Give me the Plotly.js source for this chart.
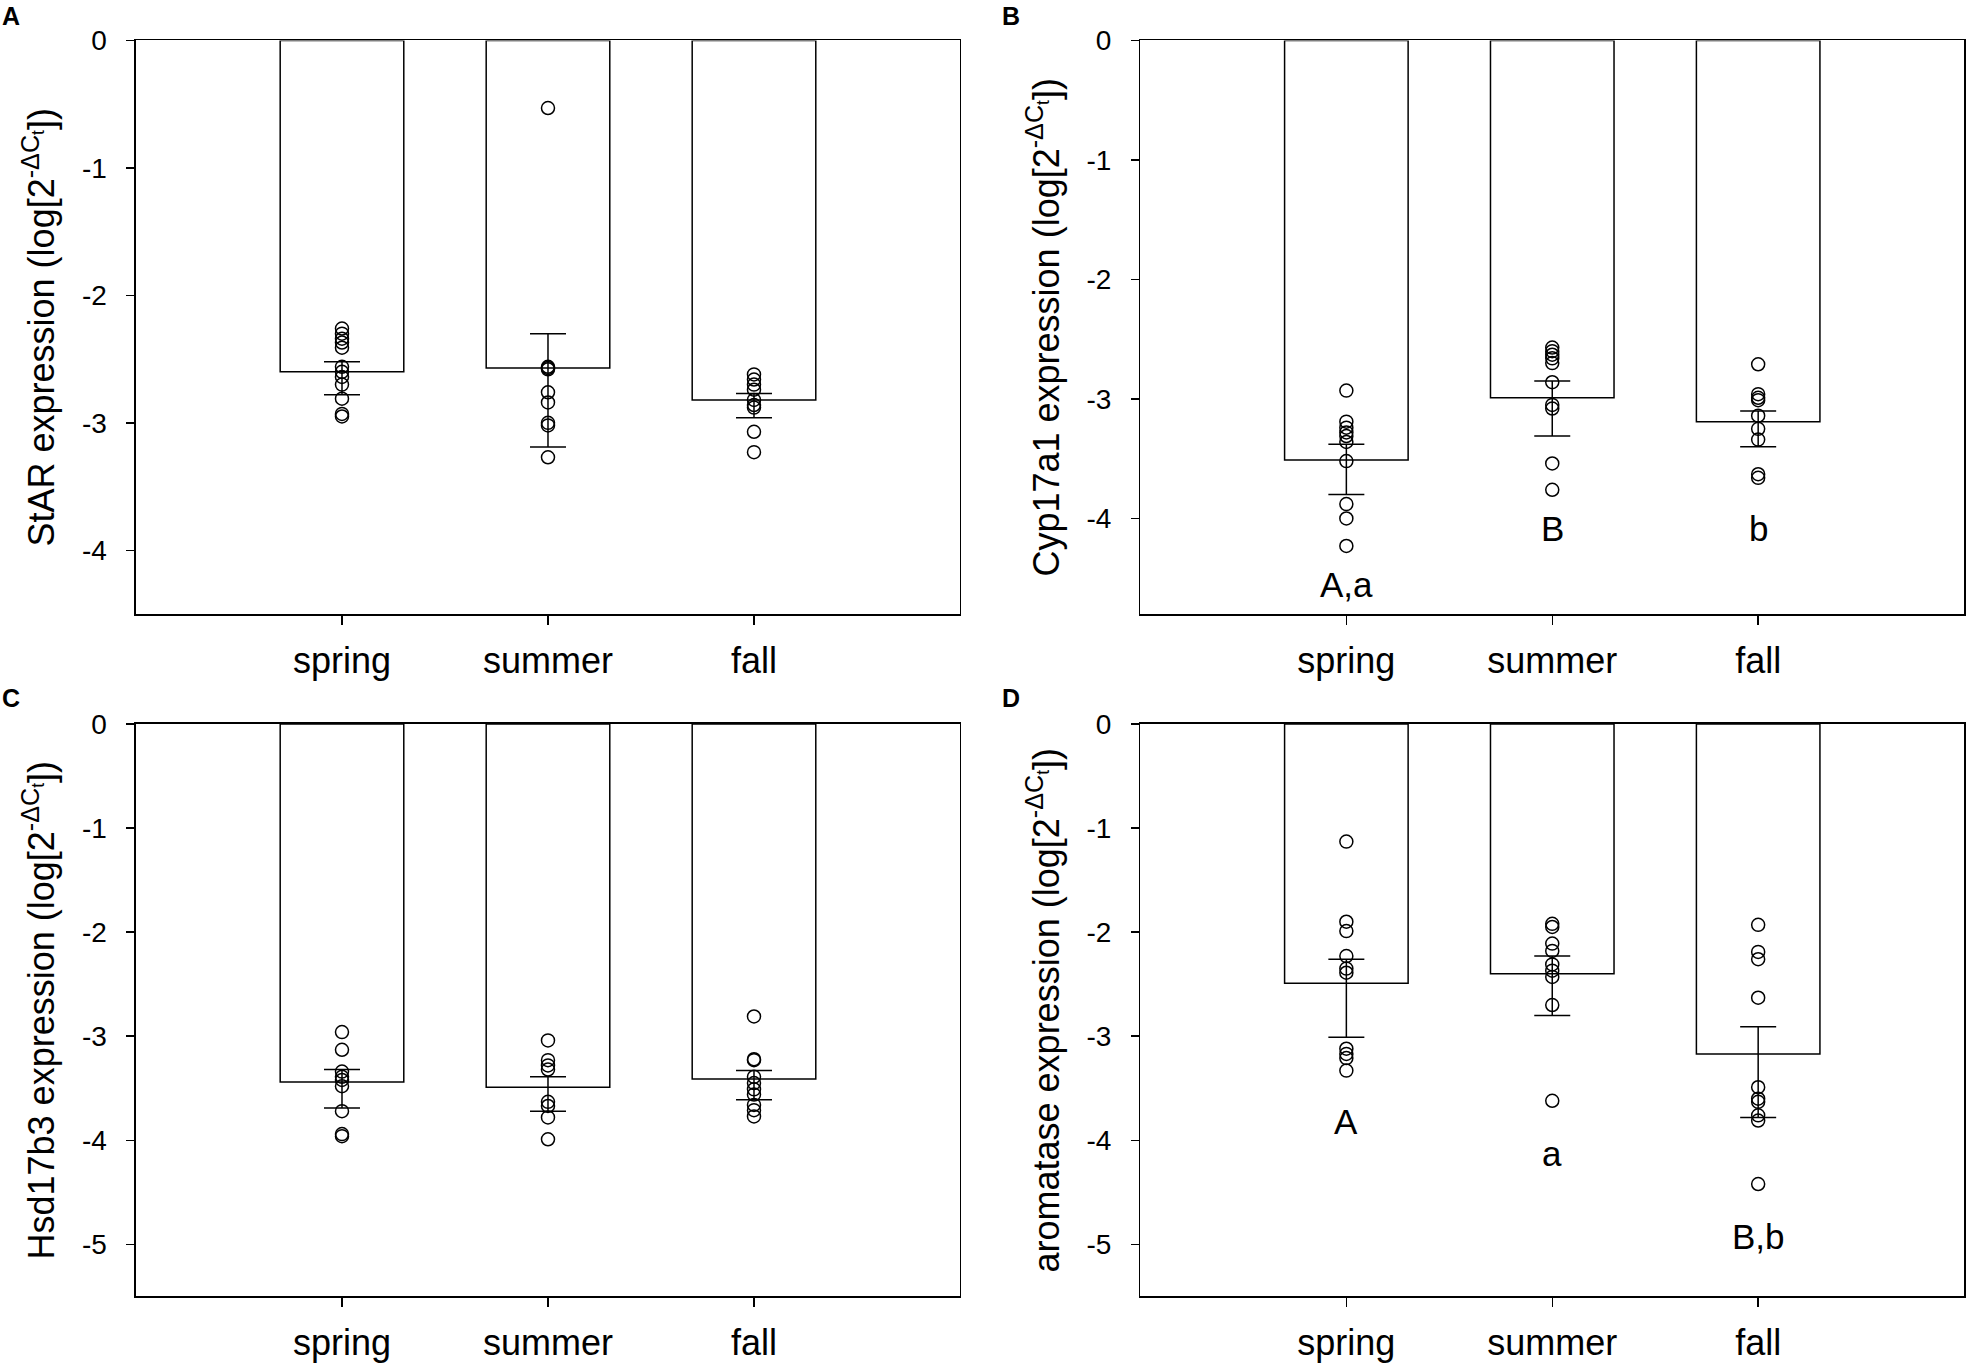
<!DOCTYPE html>
<html>
<head>
<meta charset="utf-8">
<script src="https://cdn.plot.ly/plotly-3.0.1.min.js"></script>
<style>
  html, body { margin: 0; padding: 0; background: #fff; }
  #chart { width: 1968px; height: 1367px; }
</style>
</head>
<body>
<div id="chart"></div>
<script>
const seasons = ['spring', 'summer', 'fall'];

// A - StAR
const star_mean = [-2.60, -2.57, -2.82];
const star_upper = [-2.52, -2.30, -2.77];
const star_lower = [-2.78, -3.19, -2.96];
const star_spring = [-2.26, -2.30, -2.34, -2.37, -2.41, -2.56, -2.60, -2.64, -2.70, -2.81, -2.93, -2.95];
const star_summer = [-0.53, -2.56, -2.57, -2.58, -2.76, -2.84, -3.00, -3.02, -3.27];
const star_fall = [-2.62, -2.66, -2.70, -2.74, -2.82, -2.86, -2.88, -3.07, -3.23];

// B - Cyp17a1
const cyp_mean = [-3.51, -2.99, -3.19];
const cyp_upper = [-3.38, -2.85, -3.10];
const cyp_lower = [-3.80, -3.31, -3.40];
const cyp_spring = [-2.93, -3.19, -3.24, -3.28, -3.31, -3.36, -3.52, -3.88, -4.00, -4.23];
const cyp_summer = [-2.57, -2.60, -2.63, -2.66, -2.70, -2.86, -3.05, -3.08, -3.54, -3.76];
const cyp_fall = [-2.71, -2.96, -2.99, -3.01, -3.14, -3.25, -3.34, -3.63, -3.66];
const cyp_letters = ['A,a', 'B', 'b'];
const cyp_letter_y = [-4.55, -4.08, -4.08];

// C - Hsd17b3
const hsd_mean = [-3.44, -3.49, -3.41];
const hsd_upper = [-3.32, -3.39, -3.33];
const hsd_lower = [-3.69, -3.72, -3.61];
const hsd_spring = [-2.96, -3.13, -3.34, -3.39, -3.42, -3.48, -3.72, -3.94, -3.96];
const hsd_summer = [-3.04, -3.23, -3.28, -3.32, -3.63, -3.67, -3.78, -3.99];
const hsd_fall = [-2.81, -3.22, -3.23, -3.39, -3.45, -3.51, -3.56, -3.66, -3.71, -3.77];

// D - aromatase
const aro_mean = [-2.49, -2.40, -3.17];
const aro_upper = [-2.26, -2.23, -2.91];
const aro_lower = [-3.01, -2.80, -3.78];
const aro_spring = [-1.13, -1.90, -1.99, -2.23, -2.35, -2.39, -3.12, -3.17, -3.21, -3.33];
const aro_summer = [-1.92, -1.95, -2.11, -2.18, -2.31, -2.37, -2.43, -2.70, -3.62];
const aro_fall = [-1.93, -2.19, -2.26, -2.63, -3.49, -3.60, -3.63, -3.76, -3.81, -4.42];
const aro_letters = ['A', 'a', 'B,b'];
const aro_letter_y = [-3.82, -4.13, -4.92];

const tick_vals = [0, -1, -2, -3, -4, -5];
const tick_text = ['0', '-1', '-2', '-3', '-4', '-5'];

const FONT = 'Liberation Sans, Arial, sans-serif';

const panels = [
    { name: 'A', gene: 'StAR', mean: star_mean, upper: star_upper, lower: star_lower,
      pts: [star_spring, star_summer, star_fall], ymin: -4.5, ntick: 5,
      dx: [0.0691, 0.4878], dy: [0.5508, 0.9704] },
    { name: 'B', gene: 'Cyp17a1', mean: cyp_mean, upper: cyp_upper, lower: cyp_lower,
      pts: [cyp_spring, cyp_summer, cyp_fall], ymin: -4.8, ntick: 5,
      letters: cyp_letters, letter_y: cyp_letter_y,
      dx: [0.5795, 0.9980], dy: [0.5508, 0.9704] },
    { name: 'C', gene: 'Hsd17b3', mean: hsd_mean, upper: hsd_upper, lower: hsd_lower,
      pts: [hsd_spring, hsd_summer, hsd_fall], ymin: -5.5, ntick: 6,
      dx: [0.0691, 0.4878], dy: [0.0516, 0.4704] },
    { name: 'D', gene: 'aromatase', mean: aro_mean, upper: aro_upper, lower: aro_lower,
      pts: [aro_spring, aro_summer, aro_fall], ymin: -5.5, ntick: 6,
      letters: aro_letters, letter_y: aro_letter_y,
      dx: [0.5795, 0.9980], dy: [0.0516, 0.4704] }
];

const traces = [];
const layout = {
    width: 1968,
    height: 1367,
    margin: { l: 0, r: 0, t: 0, b: 0 },
    paper_bgcolor: '#fff',
    plot_bgcolor: '#fff',
    showlegend: false,
    font: { family: FONT, color: '#000' },
    annotations: []
};

panels.forEach(function (p, i) {
    const n = i === 0 ? '' : String(i + 1);
    const xa = 'x' + n;
    const ya = 'y' + n;

    // bars with asymmetric error bars
    traces.push({
        type: 'bar',
        x: seasons,
        y: p.mean,
        xaxis: xa,
        yaxis: ya,
        width: 0.6,
        marker: { color: '#fff', line: { color: '#000', width: 1.5 } },
        error_y: {
            type: 'data',
            symmetric: false,
            array: p.upper.map((u, k) => u - p.mean[k]),
            arrayminus: p.lower.map((l, k) => p.mean[k] - l),
            color: '#000',
            thickness: 1.5,
            width: 18
        },
        hoverinfo: 'skip'
    });

    // individual points
    for (let k = 0; k < seasons.length; k++) {
        traces.push({
            type: 'scatter',
            mode: 'markers',
            x: p.pts[k].map(() => seasons[k]),
            y: p.pts[k],
            xaxis: xa,
            yaxis: ya,
            marker: { symbol: 'circle-open', size: 13, color: '#000', line: { width: 1.5 } }
        });
    }

    layout['xaxis' + n] = {
        domain: p.dx,
        anchor: ya,
        type: 'category',
        range: [-1, 3],
        showline: true,
        linecolor: '#000',
        linewidth: 1.5,
        mirror: true,
        ticks: 'outside',
        ticklen: 9,
        tickwidth: 1.5,
        tickcolor: '#000',
        ticklabelstandoff: 5,
        showgrid: false,
        zeroline: false,
        tickfont: { family: FONT, size: 36, color: '#000' }
    };

    layout['yaxis' + n] = {
        domain: p.dy,
        anchor: xa,
        range: [p.ymin, 0],
        tickvals: tick_vals.slice(0, p.ntick),
        ticktext: tick_text.slice(0, p.ntick),
        showline: true,
        linecolor: '#000',
        linewidth: 1.5,
        mirror: true,
        ticks: 'outside',
        ticklen: 8,
        tickwidth: 1.5,
        tickcolor: '#000',
        ticklabelstandoff: 14,
        showgrid: false,
        zeroline: false,
        tickfont: { family: FONT, size: 28, color: '#000' },
        title: {
            text: p.gene + ' expression (log[2<sup>-ΔC<sub>t</sub></sup>])',
            font: { family: FONT, size: 36, color: '#000' },
            standoff: 16
        }
    };

    // significance letters
    if (p.letters) {
        p.letters.forEach(function (t, k) {
            layout.annotations.push({
                xref: xa, yref: ya,
                x: seasons[k], y: p.letter_y[k],
                text: t,
                showarrow: false,
                xanchor: 'center', yanchor: 'middle',
                font: { family: FONT, size: 35, color: '#000' }
            });
        });
    }

    // panel letter
    layout.annotations.push({
        xref: 'paper', yref: 'paper',
        x: i % 2 === 0 ? 0.0 : 0.5083,
        y: i < 2 ? 1.0 : 0.5013,
        xanchor: 'left', yanchor: 'top',
        text: '<b>' + p.name + '</b>',
        showarrow: false,
        font: { family: FONT, size: 25, color: '#000' }
    });
});

Plotly.newPlot('chart', traces, layout, { staticPlot: true });
</script>
</body>
</html>
